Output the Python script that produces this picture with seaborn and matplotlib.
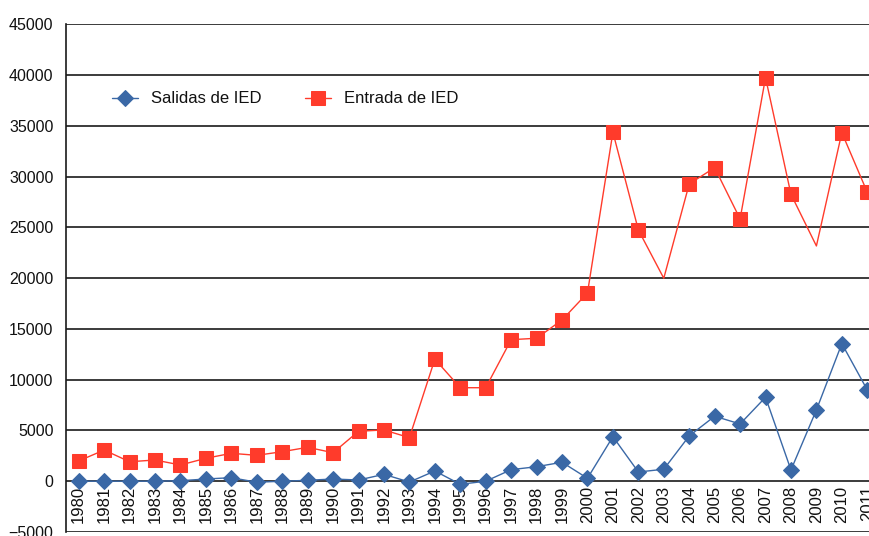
import seaborn as sns
import matplotlib.pyplot as plt
import pandas as pd

# datos (millones USD)
years = list(range(1980, 2012))
salidas = [0, 0, 0, 0, 50, 220, 350, -100, 0, 90, 220, 120, 680, -80, 1010,
           -300, 0, 1140, 1430, 1870, 290, 4390, 910, 1180, 4460, 6400, 5640,
           8270, 1110, 7020, 13550, 8990]
entrada = [2000, 3070, 1920, 2090, 1600, 2260, 2750, 2550, 2910, 3340, 2810,
           4920, 5050, 4290, 12020, 9210, 9210, 13940, 14080, 15880, 18540,
           34370, 24750, 19990, 29280, 30880, 25830, 39750, 28260, 23170,
           34330, 28460]
sin_marcador = [2003, 2009]  # puntos de entrada sin marcador en el original
yticks = list(range(-5000, 45001, 5000))

df = pd.DataFrame({'year': years, 'Salidas de IED': salidas, 'Entrada de IED': entrada})

sns.set_style('white')
plt.rcParams['font.family'] = ['Liberation Sans', 'DejaVu Sans']
plt.rcParams['text.color'] = '#111111'
plt.rcParams['xtick.color'] = '#111111'
plt.rcParams['ytick.color'] = '#111111'

fig = plt.figure(figsize=(8.69, 5.36), dpi=100)
ax = fig.add_axes([66 / 869, 1 - 532 / 536, (880 - 66) / 869, (532 - 24.3) / 536])

azul = '#3a68a6'
rojo = '#ff3b2b'

for y in yticks:
    ax.axhline(y, color='#1a1a1a', lw=1.2, zorder=0)

sns.lineplot(data=df, x='year', y='Salidas de IED', ax=ax, color=azul, lw=1,
             marker='D', markersize=8.5, markeredgecolor=azul, label='Salidas de IED')
idx = [i for i, yr in enumerate(years) if yr not in sin_marcador]
sns.lineplot(data=df, x='year', y='Entrada de IED', ax=ax, color=rojo, lw=1,
             marker='s', markersize=9.5, markeredgecolor=rojo, markevery=idx,
             label='Entrada de IED')

# eje de categorias cruzando en 0
ax.spines['bottom'].set_position(('data', 0))
ax.spines['bottom'].set_visible(False)
for s in ['top', 'right']:
    ax.spines[s].set_visible(False)
ax.spines['left'].set_color('#1a1a1a')
ax.spines['left'].set_linewidth(1.2)

ax.set_xlim(1979.5, 2011.5)
ax.set_ylim(-5000, 45000)
ax.set_xticks(years)
ax.set_xticklabels([str(y) for y in years])
ax.set_yticks(yticks)
ax.set_yticklabels([str(y).replace('-', '\u2212') for y in yticks])
ax.tick_params(axis='both', length=0)
ax.tick_params(axis='y', pad=9, labelsize=11.5)
ax.tick_params(axis='x', pad=3, labelsize=12, labelrotation=90)
ax.set_xlabel('')
ax.set_ylabel('')

ax.legend(loc='center left', bbox_to_anchor=(0.0385, 0.853), ncol=2, frameon=False,
          fontsize=12, handlelength=1.56, columnspacing=2.6, handletextpad=0.78)

fig.savefig('out.png', dpi=100)
